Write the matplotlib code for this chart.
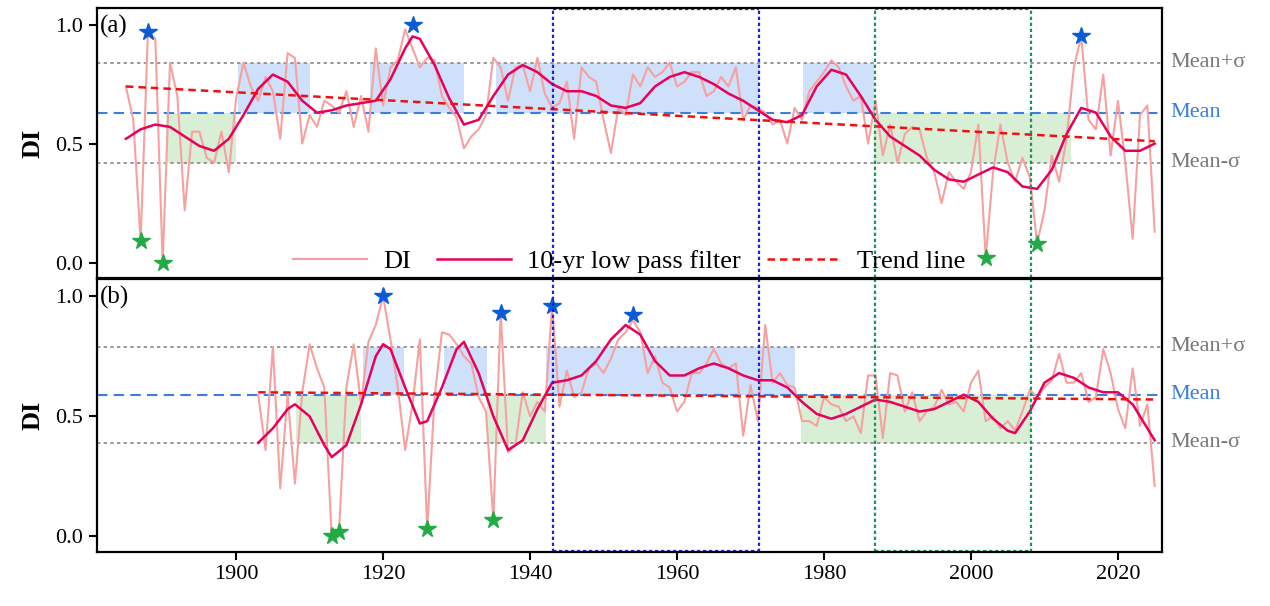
import matplotlib.pyplot as plt
import numpy as np

plt.rcParams['font.family'] = ['Liberation Serif', 'DejaVu Serif']

# ---- panel (a) data ----
years_a = list(range(1885, 2026))
di_a = [0.74, 0.60, 0.09, 0.97, 0.94, 0.00, 0.84, 0.70, 0.22, 0.55,
        0.55, 0.44, 0.42, 0.55, 0.38, 0.69, 0.84, 0.74, 0.68, 0.78,
        0.72, 0.52, 0.88, 0.86, 0.50, 0.62, 0.57, 0.68, 0.66, 0.63,
        0.72, 0.57, 0.70, 0.55, 0.90, 0.66, 0.82, 0.85, 0.98, 0.90,
        0.82, 0.86, 0.85, 0.70, 0.65, 0.61, 0.48, 0.53, 0.56, 0.62,
        0.86, 0.82, 0.68, 0.82, 0.83, 0.72, 0.86, 0.71, 0.65, 0.67,
        0.76, 0.52, 0.82, 0.78, 0.76, 0.60, 0.46, 0.65, 0.62, 0.79,
        0.74, 0.82, 0.78, 0.80, 0.84, 0.74, 0.76, 0.80, 0.80, 0.70,
        0.72, 0.78, 0.74, 0.82, 0.60, 0.66, 0.65, 0.63, 0.58, 0.60,
        0.50, 0.65, 0.60, 0.72, 0.76, 0.80, 0.85, 0.82, 0.74, 0.68,
        0.70, 0.50, 0.68, 0.45, 0.58, 0.42, 0.54, 0.57, 0.56, 0.44,
        0.38, 0.25, 0.38, 0.34, 0.31, 0.38, 0.58, 0.02, 0.38, 0.58,
        0.42, 0.34, 0.44, 0.36, 0.08, 0.22, 0.45, 0.34, 0.52, 0.82,
        0.95, 0.60, 0.56, 0.79, 0.45, 0.68, 0.42, 0.10, 0.62, 0.66,
        0.13]
lp_years_a = [1885, 1887, 1889, 1891, 1893, 1895, 1897, 1899, 1901, 1903,
              1905, 1907, 1909, 1911, 1913, 1915, 1917, 1919, 1921, 1923,
              1924, 1925, 1927, 1929, 1931, 1933, 1935, 1937, 1939, 1941,
              1943, 1945, 1947, 1949, 1951, 1953, 1955, 1957, 1959, 1961,
              1963, 1965, 1967, 1969, 1971, 1973, 1975, 1977, 1979, 1981,
              1983, 1985, 1987, 1989, 1991, 1993, 1995, 1997, 1999, 2001,
              2003, 2005, 2007, 2009, 2011, 2013, 2015, 2017, 2019, 2021,
              2023, 2025]
lp_a = [0.52, 0.56, 0.58, 0.57, 0.53, 0.49, 0.47, 0.52, 0.62, 0.73,
        0.79, 0.76, 0.68, 0.63, 0.64, 0.66, 0.67, 0.68, 0.77, 0.90,
        0.95, 0.94, 0.83, 0.69, 0.58, 0.60, 0.70, 0.79, 0.83, 0.80,
        0.75, 0.72, 0.72, 0.70, 0.66, 0.65, 0.67, 0.74, 0.78, 0.80,
        0.78, 0.75, 0.71, 0.68, 0.64, 0.60, 0.59, 0.62, 0.74, 0.81,
        0.79, 0.70, 0.60, 0.53, 0.49, 0.45, 0.39, 0.35, 0.34, 0.37,
        0.40, 0.38, 0.32, 0.31, 0.39, 0.54, 0.65, 0.63, 0.53, 0.47,
        0.47, 0.50]
trend_a = ([1885, 2025], [0.74, 0.51])
mean_a, sd_a = 0.63, 0.21
blue_a = [(1900.3, 1910), (1918.2, 1931), (1935.4, 1971.2), (1977.2, 1986.8)]
green_a = [(1890.5, 1900), (1986.8, 2013.6)]
stars_blue_a = ([1888, 1924, 2015], [0.97, 1.00, 0.95])
stars_green_a = ([1887, 1890, 2002, 2009], [0.09, 0.00, 0.02, 0.08])

# ---- panel (b) data ----
years_b = list(range(1903, 2026))
di_b = [0.59, 0.36, 0.79, 0.20, 0.59, 0.22, 0.60, 0.80, 0.70, 0.62,
        0.00, 0.02, 0.62, 0.80, 0.55, 0.81, 0.88, 1.00, 0.82, 0.62,
        0.36, 0.55, 0.82, 0.03, 0.58, 0.85, 0.84, 0.80, 0.75, 0.72,
        0.58, 0.52, 0.07, 0.93, 0.35, 0.38, 0.60, 0.50, 0.56, 0.52,
        0.96, 0.54, 0.69, 0.58, 0.60, 0.70, 0.72, 0.68, 0.74, 0.82,
        0.85, 0.90, 0.85, 0.68, 0.75, 0.64, 0.62, 0.52, 0.56, 0.68,
        0.68, 0.72, 0.78, 0.72, 0.70, 0.72, 0.42, 0.63, 0.48, 0.88,
        0.64, 0.68, 0.63, 0.62, 0.48, 0.48, 0.46, 0.58, 0.55, 0.54,
        0.48, 0.50, 0.43, 0.67, 0.67, 0.41, 0.68, 0.67, 0.52, 0.60,
        0.48, 0.52, 0.54, 0.61, 0.55, 0.56, 0.52, 0.64, 0.69, 0.48,
        0.50, 0.45, 0.48, 0.44, 0.52, 0.61, 0.58, 0.62, 0.65, 0.76,
        0.64, 0.64, 0.68, 0.56, 0.58, 0.78, 0.68, 0.53, 0.45, 0.70,
        0.46, 0.55, 0.21]
lp_years_b = [1903, 1905, 1907, 1908, 1910, 1912, 1913, 1915, 1917, 1919,
              1920, 1921, 1923, 1925, 1926, 1928, 1930, 1931, 1933, 1935,
              1937, 1939, 1941, 1943, 1945, 1947, 1949, 1951, 1953, 1955,
              1957, 1959, 1961, 1963, 1965, 1967, 1969, 1971, 1973, 1975,
              1977, 1979, 1981, 1983, 1985, 1987, 1989, 1991, 1993, 1995,
              1997, 1999, 2001, 2003, 2005, 2006, 2008, 2010, 2012, 2014,
              2016, 2018, 2020, 2022, 2024, 2025]
lp_b = [0.39, 0.45, 0.53, 0.55, 0.50, 0.38, 0.33, 0.38, 0.55, 0.75,
        0.80, 0.78, 0.62, 0.47, 0.48, 0.62, 0.78, 0.81, 0.68, 0.50,
        0.36, 0.40, 0.53, 0.64, 0.65, 0.67, 0.73, 0.82, 0.88, 0.84,
        0.73, 0.67, 0.67, 0.70, 0.72, 0.70, 0.67, 0.65, 0.65, 0.62,
        0.56, 0.51, 0.49, 0.51, 0.54, 0.57, 0.56, 0.54, 0.52, 0.53,
        0.56, 0.59, 0.56, 0.49, 0.44, 0.43, 0.52, 0.64, 0.68, 0.66,
        0.62, 0.60, 0.60, 0.55, 0.45, 0.40]
trend_b = ([1903, 2025], [0.60, 0.57])
mean_b, sd_b = 0.59, 0.20
blue_b = [(1917.2, 1922.9), (1928.3, 1934.2), (1942.2, 1976.1)]
green_b = [(1908.1, 1917.0), (1934.2, 1942.2), (1976.9, 2008.2)]
stars_blue_b = ([1920, 1936, 1943, 1954], [1.00, 0.93, 0.96, 0.92])
stars_green_b = ([1913, 1914, 1926, 1935], [0.00, 0.02, 0.03, 0.07])

boxes = [((1943.1, 1971.2), '#2222dd'), ((1986.9, 2008.2), '#119955')]
dot = (0, (1.5, 1.2))

fig = plt.figure(figsize=(12.7, 6.06), dpi=100)
ax1 = fig.add_axes([0.076, 0.541, 0.839, 0.446])
ax2 = fig.add_axes([0.076, 0.089, 0.839, 0.450])

panels = [
    (ax1, '(a)', years_a, di_a, lp_years_a, lp_a, trend_a, mean_a, sd_a,
     blue_a, green_a, stars_blue_a, stars_green_a),
    (ax2, '(b)', years_b, di_b, lp_years_b, lp_b, trend_b, mean_b, sd_b,
     blue_b, green_b, stars_blue_b, stars_green_b),
]

for (ax, tag, yrs, di, lpy, lp, tr, m, s, blues, greens, sb, sg) in panels:
    for x0, x1 in blues:
        ax.fill_between([x0, x1], m, m + s, color='#cfe0fa', lw=0)
    for x0, x1 in greens:
        ax.fill_between([x0, x1], m - s, m, color='#d8efd6', lw=0)
    ax.axhline(m + s, color='#888888', ls=(0, (2, 2)), lw=1.2)
    ax.axhline(m - s, color='#888888', ls=(0, (2, 2)), lw=1.2)
    ax.axhline(m, color='#3a7ee0', ls=(0, (5, 3)), lw=1.5)
    ax.plot(yrs, di, color='#f7a0a0', lw=1.5, label='DI')
    ax.plot(lpy, lp, color='#e8005a', lw=1.8, label='10-yr low pass filter')
    ax.plot(tr[0], tr[1], color='#ee1111', ls=(0, (3, 2)), lw=1.8, label='Trend line')
    ax.plot(sb[0], sb[1], '*', color='#0a5bd6', ms=13, ls='none')
    ax.plot(sg[0], sg[1], '*', color='#22aa44', ms=13, ls='none')
    for (x0, x1), c in boxes:
        ax.axvline(x0, color=c, ls=dot, lw=1.6)
        ax.axvline(x1, color=c, ls=dot, lw=1.6)
    ax.set_xlim(1881, 2026)
    ax.set_ylim(-0.065, 1.07)
    ax.set_yticks([0.0, 0.5, 1.0])
    ax.set_ylabel('DI', fontsize=19, fontweight='bold', labelpad=8)
    ax.text(0.003, 0.975, tag, transform=ax.transAxes, fontsize=18, va='top')
    ax.text(1.008, (m + s + 0.065) / 1.135, 'Mean+σ', transform=ax.transAxes,
            color='#777777', fontsize=16, va='center')
    ax.text(1.008, (m + 0.065) / 1.135, 'Mean', transform=ax.transAxes,
            color='#3a7ee0', fontsize=16, va='center')
    ax.text(1.008, (m - s + 0.065) / 1.135, 'Mean-σ', transform=ax.transAxes,
            color='#777777', fontsize=16, va='center')
    ax.tick_params(labelsize=16, width=1.5, length=6)
    for sp in ax.spines.values():
        sp.set_linewidth(1.6)

# dashed boxes: top edge in (a), bottom edge in (b)
for (x0, x1), c in boxes:
    ax1.plot([x0, x1], [1.065, 1.065], color=c, ls=dot, lw=1.6, clip_on=False)
    ax2.plot([x0, x1], [-0.06, -0.06], color=c, ls=dot, lw=1.6, clip_on=False)

ax1.set_xticklabels([])
ax1.legend(loc='lower center', bbox_to_anchor=(0.5, -0.07), ncol=3, frameon=False,
           fontsize=19, handlelength=2.8, columnspacing=1.0, handletextpad=0.6)

fig.savefig('out.png')
